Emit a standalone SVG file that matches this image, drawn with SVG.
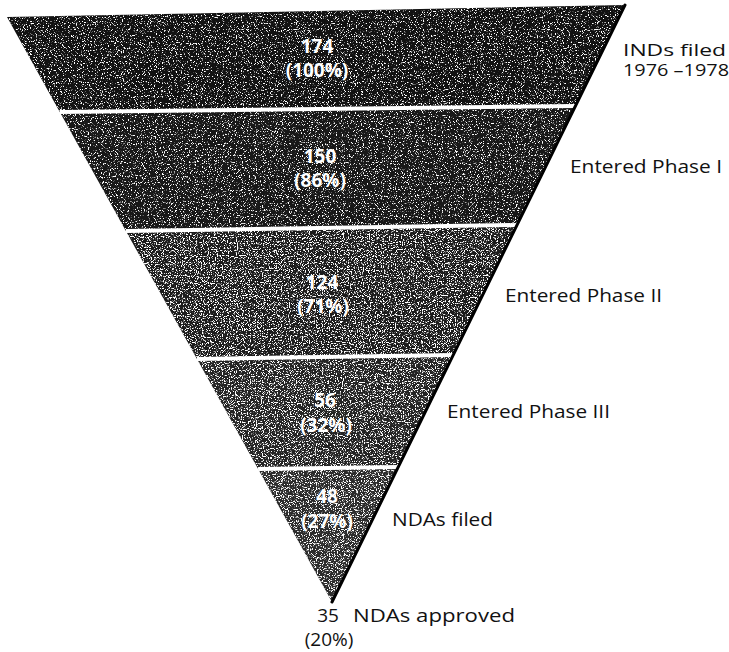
<svg xmlns="http://www.w3.org/2000/svg" width="729" height="652" viewBox="0 0 729 652">
  <defs>
    <filter id="grain" x="0" y="0" width="100%" height="100%" color-interpolation-filters="sRGB">
      <feTurbulence type="fractalNoise" baseFrequency="0.85" numOctaves="2" seed="7" result="noise"/>
      <feColorMatrix in="noise" type="matrix" values="0 0 0 0 1  0 0 0 0 1  0 0 0 0 1  9 0 0 0 -5.2" result="dots"/>
      <feComposite in="dots" in2="SourceGraphic" operator="in" result="clipped"/>
      <feMerge><feMergeNode in="SourceGraphic"/><feMergeNode in="clipped"/></feMerge>
    </filter>
    <filter id="grain2" x="0" y="0" width="100%" height="100%" color-interpolation-filters="sRGB">
      <feTurbulence type="fractalNoise" baseFrequency="0.85" numOctaves="2" seed="11" result="noise"/>
      <feColorMatrix in="noise" type="matrix" values="0 0 0 0 1  0 0 0 0 1  0 0 0 0 1  9 0 0 0 -4.8" result="dots"/>
      <feComposite in="dots" in2="SourceGraphic" operator="in" result="clipped"/>
      <feMerge><feMergeNode in="SourceGraphic"/><feMergeNode in="clipped"/></feMerge>
    </filter>
  </defs>
  <style>
    .band { stroke: none; }
    .num { font-family: "Open Sans", "Liberation Sans", sans-serif; font-weight: bold; font-size: 19px; fill: #ffffff; text-anchor: middle; }
    .lab { font-family: "Open Sans", "Liberation Sans", sans-serif; font-size: 19px; fill: #111111; }
    .small { font-size: 16px; }
    .out { font-family: "Open Sans", "Liberation Sans", sans-serif; font-size: 19px; fill: #111111; text-anchor: middle; }
    .sep { stroke: #ffffff; stroke-width: 4; fill: none; }
    .edge { stroke: #000000; stroke-width: 3; fill: none; stroke-linecap: round; }
  </style>
  <rect width="729" height="652" fill="#ffffff"/>

  <g id="stage-inds">
    <polygon class="band" filter="url(#grain)" fill="#121212" points="7,17 625,5 575.4,106 59.8,112"/>
    <text class="num" x="317" y="53">174</text>
    <text class="num" x="317" y="77">(100%)</text>
    <text class="lab small" x="623" y="56" textLength="103" lengthAdjust="spacingAndGlyphs">INDs filed</text>
    <text class="lab small" x="623" y="76" textLength="106" lengthAdjust="spacingAndGlyphs">1976 –1978</text>
  </g>

  <g id="stage-phase1">
    <polygon class="band" filter="url(#grain)" fill="#181818" points="59.8,112 575.4,106 517,225 125.9,231"/>
    <text class="num" x="320" y="163">150</text>
    <text class="num" x="320" y="187">(86%)</text>
    <text class="lab" x="570" y="173" textLength="152" lengthAdjust="spacingAndGlyphs">Entered Phase I</text>
  </g>

  <g id="stage-phase2">
    <polygon class="band" filter="url(#grain2)" fill="#1c1c1c" points="125.9,231 517,225 453.2,355 197,359"/>
    <text class="num" x="322" y="289">124</text>
    <text class="num" x="323" y="313">(71%)</text>
    <text class="lab" x="505" y="302" textLength="157" lengthAdjust="spacingAndGlyphs">Entered Phase II</text>
  </g>

  <g id="stage-phase3">
    <polygon class="band" filter="url(#grain2)" fill="#242424" points="197,359 453.2,355 398.3,467 258.1,469"/>
    <text class="num" x="325" y="407">56</text>
    <text class="num" x="326" y="432">(32%)</text>
    <text class="lab" x="447" y="418" textLength="163" lengthAdjust="spacingAndGlyphs">Entered Phase III</text>
  </g>

  <g id="stage-nda-filed">
    <polygon class="band" filter="url(#grain2)" fill="#2c2c2c" points="258.1,469 398.3,467 332,602"/>
    <text class="num" x="327" y="503">48</text>
    <text class="num" x="327" y="528">(27%)</text>
    <text class="lab" x="392" y="526" textLength="101" lengthAdjust="spacingAndGlyphs">NDAs filed</text>
  </g>

  <g id="stage-nda-approved">
    <text class="out" x="328" y="622">35</text>
    <text class="out" x="329" y="646">(20%)</text>
    <text class="lab" x="353" y="622" textLength="162" lengthAdjust="spacingAndGlyphs">NDAs approved</text>
  </g>

  <g id="connectors">
    <line class="sep" x1="59.8" y1="112" x2="575.4" y2="106"/>
    <line class="sep" x1="125.9" y1="231" x2="517" y2="225"/>
    <line class="sep" x1="197" y1="359" x2="453.2" y2="355"/>
    <line class="sep" x1="258.1" y1="469" x2="398.3" y2="467"/>
    <line class="edge" x1="625" y1="5" x2="332" y2="602"/>
  </g>
</svg>
